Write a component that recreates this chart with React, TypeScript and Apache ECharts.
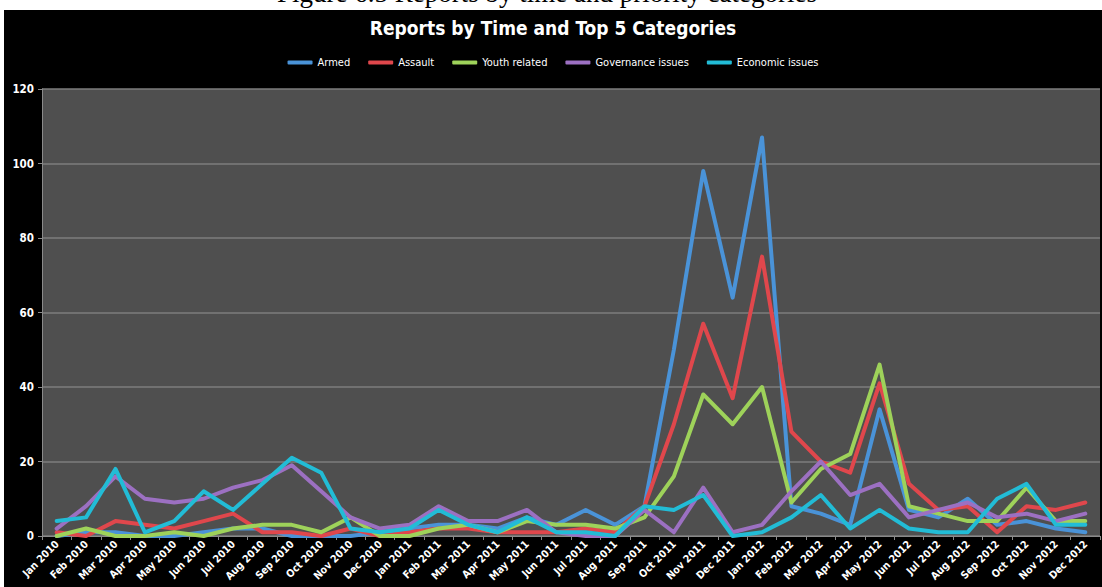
import React, { useEffect, useRef } from "react";
import * as echarts from "echarts";

const months = [
  "Jan 2010", "Feb 2010", "Mar 2010", "Apr 2010", "May 2010", "Jun 2010", "Jul 2010", "Aug 2010", "Sep 2010", "Oct 2010", "Nov 2010", "Dec 2010",
  "Jan 2011", "Feb 2011", "Mar 2011", "Apr 2011", "May 2011", "Jun 2011", "Jul 2011", "Aug 2011", "Sep 2011", "Oct 2011", "Nov 2011", "Dec 2011",
  "Jan 2012", "Feb 2012", "Mar 2012", "Apr 2012", "May 2012", "Jun 2012", "Jul 2012", "Aug 2012", "Sep 2012", "Oct 2012", "Nov 2012", "Dec 2012",
];

const armed = [0, 1, 1, 0, 0, 1, 2, 2, 0, 0, 0, 1, 2, 3, 3, 2, 5, 3, 7, 3, 8, 50, 98, 64, 107, 8, 6, 3, 34, 7, 5, 10, 3, 4, 2, 1];
const assault = [1, 0, 4, 3, 2, 4, 6, 1, 1, 0, 2, 0, 1, 2, 2, 1, 1, 1, 2, 1, 8, 30, 57, 37, 75, 28, 20, 17, 41, 14, 7, 8, 1, 8, 7, 9];
const youth = [0, 2, 0, 0, 1, 0, 2, 3, 3, 1, 5, 0, 0, 2, 3, 1, 4, 3, 3, 2, 5, 16, 38, 30, 40, 9, 18, 22, 46, 8, 6, 4, 4, 13, 4, 4];
const governance = [2, 8, 16, 10, 9, 10, 13, 15, 19, 12, 5, 2, 3, 8, 4, 4, 7, 1, 0, 0, 7, 1, 13, 1, 3, 12, 20, 11, 14, 5, 7, 9, 5, 6, 4, 6];
const economic = [4, 5, 18, 1, 4, 12, 7, 14, 21, 17, 2, 1, 2, 7, 3, 1, 5, 1, 1, 0, 8, 7, 11, 0, 1, 5, 11, 2, 7, 2, 1, 1, 10, 14, 3, 3];

const seriesNames = ["Armed", "Assault", "Youth related", "Governance issues", "Economic issues"];
const seriesColors = ["#4a93d8", "#e0474c", "#9ed25a", "#9c70c2", "#22bcd6"];
const seriesData = [armed, assault, youth, governance, economic];

const FONT = "'Liberation Sans Narrow', 'DejaVu Sans Condensed', 'Open Sans', sans-serif";

export default function App() {
  const ref = useRef<HTMLDivElement>(null);
  useEffect(() => {
    if (!ref.current) return;
    const chart = echarts.init(ref.current, undefined, { renderer: "svg" });
    chart.setOption({
      animation: false,
      backgroundColor: "#000000",
      textStyle: { fontFamily: FONT },
      title: {
        text: "Reports by Time and Top 5 Categories",
        left: "center",
        top: 3,
        textStyle: { color: "#ffffff", fontSize: 19, fontWeight: "bold", fontFamily: FONT },
      },
      legend: {
        top: 42,
        left: "center",
        itemWidth: 25,
        itemHeight: 4,
        itemGap: 18,
        icon: "roundRect",
        textStyle: { color: "#ffffff", fontSize: 11, fontFamily: FONT },
        data: seriesNames,
      },
      grid: {
        left: 38,
        right: 2,
        top: 79,
        bottom: 51,
        show: true,
        backgroundColor: "#4f4f4f",
        borderWidth: 0,
      },
      xAxis: {
        type: "category",
        data: months,
        boundaryGap: true,
        axisLine: { lineStyle: { color: "#8a8a8a", width: 1 } },
        axisTick: { show: true, alignWithLabel: false, length: 4, lineStyle: { color: "#8a8a8a" } },
        axisLabel: {
          color: "#ffffff",
          fontSize: 10.5,
          fontWeight: "bold",
          rotate: 45,
          interval: 0,
          margin: 6,
          fontFamily: FONT,
        },
      },
      yAxis: {
        type: "value",
        min: 0,
        max: 120,
        interval: 20,
        axisLine: { show: true, lineStyle: { color: "#8a8a8a", width: 1 } },
        axisTick: { show: true, length: 4, lineStyle: { color: "#8a8a8a" } },
        axisLabel: { color: "#ffffff", fontSize: 11.5, fontWeight: "bold", margin: 8, fontFamily: FONT },
        splitLine: { show: true, lineStyle: { color: "#7d7d7d", width: 1.5 } },
      },
      series: seriesNames.map((name, i) => ({
        name,
        type: "line",
        data: seriesData[i],
        symbol: "none",
        lineStyle: { color: seriesColors[i], width: 4, join: "round", cap: "round" },
        itemStyle: { color: seriesColors[i] },
      })),
    });
    return () => chart.dispose();
  }, []);

  return (
    <div style={{ position: "fixed", left: 0, top: 0, width: 1102, height: 587, background: "#ffffff", overflow: "hidden" }}>
      <div
        style={{
          position: "absolute",
          left: 0,
          width: 1094,
          top: -22,
          textAlign: "center",
          fontFamily: "'Liberation Serif', 'Times New Roman', serif",
          fontSize: 27,
          lineHeight: "30px",
          color: "#000",
          whiteSpace: "nowrap",
        }}
      >
        Figure 6.5 Reports by time and priority categories
      </div>
      <div ref={ref} style={{ position: "absolute", left: 4, top: 10, width: 1098, height: 577 }} />
    </div>
  );
}
